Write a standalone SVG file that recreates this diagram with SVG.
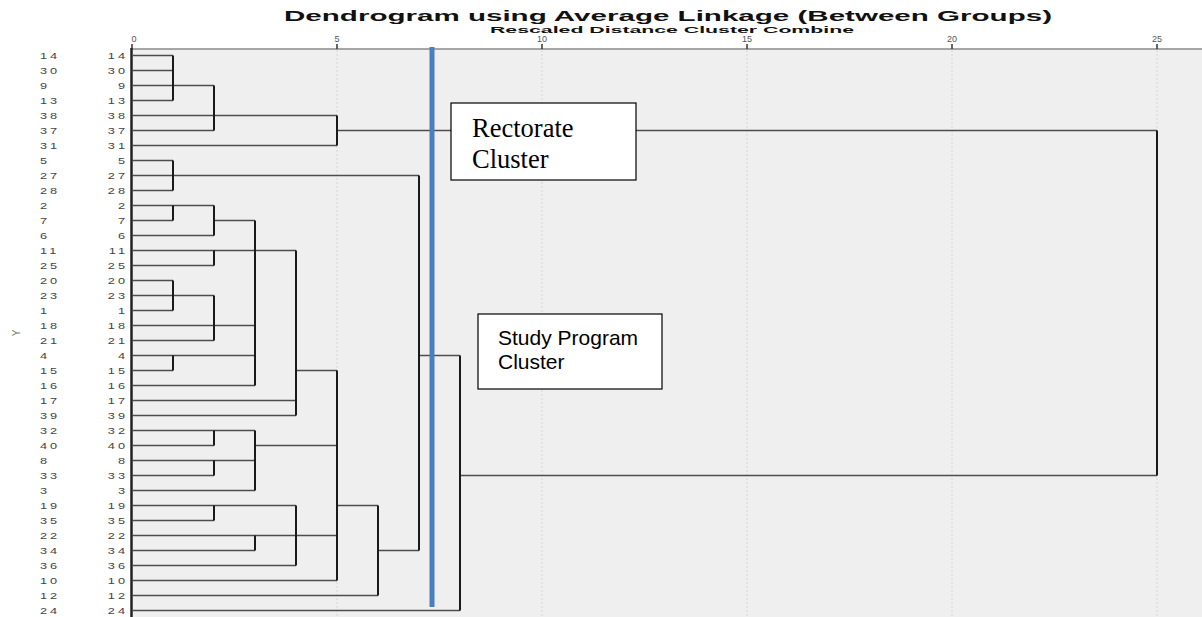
<svg xmlns="http://www.w3.org/2000/svg" width="1202" height="617" viewBox="0 0 1202 617">
<style>
.title{font-family:"Liberation Sans",Arial,sans-serif;font-weight:bold;fill:#111}
.tick{font-family:"Liberation Sans",Arial,sans-serif;font-size:9px;fill:#555;text-anchor:middle}
.lab{font-family:"Liberation Sans",Arial,sans-serif;font-size:8.5px;fill:#444;letter-spacing:2px}
.lab2{text-anchor:end}
.hl{fill:none;stroke:#4d4d4d;stroke-width:1.3}
.vl{fill:none;stroke:#1a1a1a;stroke-width:2}
.grid{stroke:#d6d6d6;stroke-width:1;stroke-dasharray:2 2}
.box{fill:#fff;stroke:#000;stroke-width:1.2}
.serif{font-family:"Liberation Serif","Times New Roman",serif;font-size:26.5px;fill:#000}
.sans{font-family:"Liberation Sans",Arial,sans-serif;font-size:21px;fill:#000}
</style>
<rect x="0" y="0" width="1202" height="617" fill="#fff"/>
<rect x="132" y="49" width="1070" height="568" fill="#efefef"/>
<g id="grid">
<line class="grid" x1="337" y1="50" x2="337" y2="617"/>
<line class="grid" x1="542" y1="50" x2="542" y2="617"/>
<line class="grid" x1="747" y1="50" x2="747" y2="617"/>
<line class="grid" x1="952" y1="50" x2="952" y2="617"/>
<line class="grid" x1="1157" y1="50" x2="1157" y2="617"/>
</g>
<g id="title">
<text class="title" x="284" y="21" font-size="15.5" textLength="768" lengthAdjust="spacingAndGlyphs">Dendrogram using Average Linkage (Between Groups)</text>
<text class="title" x="490" y="33" font-size="9.5" textLength="364" lengthAdjust="spacingAndGlyphs">Rescaled Distance Cluster Combine</text>
</g>
<g id="axis">
<line x1="132" y1="49" x2="1202" y2="49" stroke="#8a8a8a" stroke-width="1.5"/>
<line x1="131.5" y1="48" x2="131.5" y2="617" stroke="#222" stroke-width="2.5"/>
<g stroke="#333" stroke-width="1.5">
<line x1="132" y1="44" x2="132" y2="49"/>
<line x1="337" y1="44" x2="337" y2="49"/>
<line x1="542" y1="44" x2="542" y2="49"/>
<line x1="747" y1="44" x2="747" y2="49"/>
<line x1="952" y1="44" x2="952" y2="49"/>
<line x1="1157" y1="44" x2="1157" y2="49"/>
</g>
<text class="tick" x="134" y="42">0</text>
<text class="tick" x="337" y="42">5</text>
<text class="tick" x="542" y="42">10</text>
<text class="tick" x="747" y="42">15</text>
<text class="tick" x="952" y="42">20</text>
<text class="tick" x="1157" y="42">25</text>
<text x="20" y="333" font-family="Liberation Sans, Arial, sans-serif" font-size="10" fill="#777" text-anchor="middle" transform="rotate(-90 20 333)">Y</text>
</g>
<g id="labels-left" transform="scale(1.5,1)">
<text class="lab" x="26.67" y="59">14</text><text class="lab" x="26.67" y="74">30</text><text class="lab" x="26.67" y="89">9</text><text class="lab" x="26.67" y="104">13</text><text class="lab" x="26.67" y="119">38</text><text class="lab" x="26.67" y="134">37</text><text class="lab" x="26.67" y="149">31</text><text class="lab" x="26.67" y="164">5</text><text class="lab" x="26.67" y="179">27</text><text class="lab" x="26.67" y="194">28</text><text class="lab" x="26.67" y="209">2</text><text class="lab" x="26.67" y="224">7</text><text class="lab" x="26.67" y="239">6</text><text class="lab" x="26.67" y="254">11</text><text class="lab" x="26.67" y="269">25</text><text class="lab" x="26.67" y="284">20</text><text class="lab" x="26.67" y="299">23</text><text class="lab" x="26.67" y="314">1</text><text class="lab" x="26.67" y="329">18</text><text class="lab" x="26.67" y="344">21</text><text class="lab" x="26.67" y="359">4</text><text class="lab" x="26.67" y="374">15</text><text class="lab" x="26.67" y="389">16</text><text class="lab" x="26.67" y="404">17</text><text class="lab" x="26.67" y="419">39</text><text class="lab" x="26.67" y="434">32</text><text class="lab" x="26.67" y="449">40</text><text class="lab" x="26.67" y="464">8</text><text class="lab" x="26.67" y="479">33</text><text class="lab" x="26.67" y="494">3</text><text class="lab" x="26.67" y="509">19</text><text class="lab" x="26.67" y="524">35</text><text class="lab" x="26.67" y="539">22</text><text class="lab" x="26.67" y="554">34</text><text class="lab" x="26.67" y="569">36</text><text class="lab" x="26.67" y="584">10</text><text class="lab" x="26.67" y="599">12</text><text class="lab" x="26.67" y="614">24</text>
</g>
<g id="labels-right" transform="scale(1.5,1)">
<text class="lab lab2" x="85.33" y="59">14</text><text class="lab lab2" x="85.33" y="74">30</text><text class="lab lab2" x="85.33" y="89">9</text><text class="lab lab2" x="85.33" y="104">13</text><text class="lab lab2" x="85.33" y="119">38</text><text class="lab lab2" x="85.33" y="134">37</text><text class="lab lab2" x="85.33" y="149">31</text><text class="lab lab2" x="85.33" y="164">5</text><text class="lab lab2" x="85.33" y="179">27</text><text class="lab lab2" x="85.33" y="194">28</text><text class="lab lab2" x="85.33" y="209">2</text><text class="lab lab2" x="85.33" y="224">7</text><text class="lab lab2" x="85.33" y="239">6</text><text class="lab lab2" x="85.33" y="254">11</text><text class="lab lab2" x="85.33" y="269">25</text><text class="lab lab2" x="85.33" y="284">20</text><text class="lab lab2" x="85.33" y="299">23</text><text class="lab lab2" x="85.33" y="314">1</text><text class="lab lab2" x="85.33" y="329">18</text><text class="lab lab2" x="85.33" y="344">21</text><text class="lab lab2" x="85.33" y="359">4</text><text class="lab lab2" x="85.33" y="374">15</text><text class="lab lab2" x="85.33" y="389">16</text><text class="lab lab2" x="85.33" y="404">17</text><text class="lab lab2" x="85.33" y="419">39</text><text class="lab lab2" x="85.33" y="434">32</text><text class="lab lab2" x="85.33" y="449">40</text><text class="lab lab2" x="85.33" y="464">8</text><text class="lab lab2" x="85.33" y="479">33</text><text class="lab lab2" x="85.33" y="494">3</text><text class="lab lab2" x="85.33" y="509">19</text><text class="lab lab2" x="85.33" y="524">35</text><text class="lab lab2" x="85.33" y="539">22</text><text class="lab lab2" x="85.33" y="554">34</text><text class="lab lab2" x="85.33" y="569">36</text><text class="lab lab2" x="85.33" y="584">10</text><text class="lab lab2" x="85.33" y="599">12</text><text class="lab lab2" x="85.33" y="614">24</text>
</g>
<g id="connectors">
<path class="hl" d="M132 55.5H173M132 70.5H173M132 85.5H214M132 100.5H173M132 115.5H337M132 130.5H214M337 130.5H1157M132 145.5H337M132 160.5H173M132 175.5H419M132 190.5H173M132 205.5H214M132 220.5H173M214 220.5H255M132 235.5H214M132 250.5H296M132 265.5H214M132 280.5H173M132 295.5H214M132 310.5H173M132 325.5H255M132 340.5H214M132 355.5H255M419 355.5H460M132 370.5H173M296 370.5H337M132 385.5H255M132 400.5H296M132 415.5H296M132 430.5H255M132 445.5H214M255 445.5H337M132 460.5H255M132 475.5H214M460 475.5H1157M132 490.5H255M132 505.5H296M337 505.5H378M132 520.5H214M132 535.5H337M132 550.5H255M378 550.5H419M132 565.5H296M132 580.5H337M132 595.5H378M132 610.5H460"/>
<path class="vl" d="M173 55.5V100.5M173 160.5V190.5M173 205.5V220.5M173 280.5V310.5M173 355.5V370.5M214 85.5V130.5M214 205.5V235.5M214 250.5V265.5M214 295.5V340.5M214 430.5V445.5M214 460.5V475.5M214 505.5V520.5M255 220.5V385.5M255 430.5V490.5M255 535.5V550.5M296 250.5V415.5M296 505.5V565.5M337 115.5V145.5M337 370.5V580.5M378 505.5V595.5M419 175.5V550.5M460 355.5V610.5M1157 130.5V475.5"/>
</g>
<g id="cut-line">
<line x1="432" y1="47" x2="432" y2="607" stroke="#4a7ebf" stroke-width="5"/>
</g>
<g id="rectorate-cluster">
<rect class="box" x="451" y="103" width="185" height="77"/>
<text class="serif" x="472" y="137">Rectorate</text>
<text class="serif" x="472" y="168">Cluster</text>
</g>
<g id="study-program-cluster">
<rect class="box" x="478" y="314" width="184" height="75"/>
<text class="sans" x="498" y="345">Study Program</text>
<text class="sans" x="498" y="369">Cluster</text>
</g>
</svg>
